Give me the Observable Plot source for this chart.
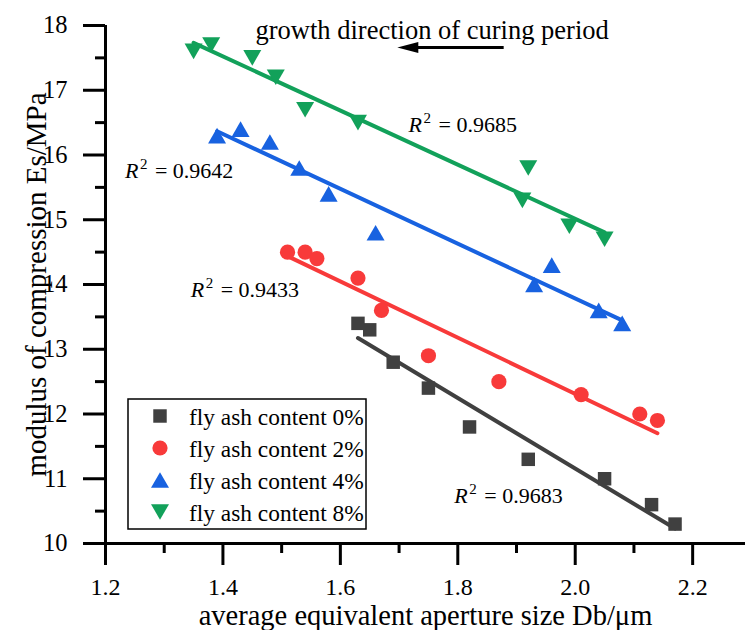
<!DOCTYPE html>
<html>
<head>
<meta charset="utf-8">
<script src="https://cdn.jsdelivr.net/npm/d3@7"></script>
<script src="https://cdn.jsdelivr.net/npm/@observablehq/plot@0.6"></script>
<style>
  html, body { margin: 0; padding: 0; background: #fff; }
  #wrap { position: relative; width: 745px; height: 630px; overflow: hidden; }
  #wrap svg text { font-family: "Liberation Serif", serif; }
</style>
</head>
<body>
<div id="wrap"></div>
<script>
// ---------- data ----------
const xTicksMajor = [1.2, 1.4, 1.6, 1.8, 2.0, 2.2];
const xTicksMinor = [1.3, 1.5, 1.7, 1.9, 2.1];
const yTicksMajor = [10, 11, 12, 13, 14, 15, 16, 17, 18];
const yTicksMinor = [10.5, 11.5, 12.5, 13.5, 14.5, 15.5, 16.5, 17.5];

const seriesNames = ["fly ash content 0%", "fly ash content 2%", "fly ash content 4%", "fly ash content 8%"];

const x0 = [1.63, 1.65, 1.69, 1.75, 1.82, 1.92, 2.05, 2.13, 2.17];
const y0 = [13.4, 13.3, 12.8, 12.4, 11.8, 11.3, 11.0, 10.6, 10.3];

const x2 = [1.51, 1.54, 1.56, 1.63, 1.67, 1.75, 1.87, 2.01, 2.11, 2.14];
const y2 = [14.5, 14.5, 14.4, 14.1, 13.6, 12.9, 12.5, 12.3, 12.0, 11.9];

const x4 = [1.39, 1.43, 1.48, 1.53, 1.58, 1.66, 1.93, 1.96, 2.04, 2.08];
const y4 = [16.3, 16.4, 16.2, 15.8, 15.4, 14.8, 14.0, 14.3, 13.6, 13.4];

const x8 = [1.35, 1.38, 1.45, 1.49, 1.54, 1.63, 1.91, 1.92, 1.99, 2.05];
const y8 = [17.6, 17.7, 17.5, 17.2, 16.7, 16.5, 15.3, 15.8, 14.9, 14.7];

// R² annotations (data units: left x, baseline y)
const r2Values = ["0.9683", "0.9433", "0.9642", "0.9685"];
const r2X = [1.794, 1.345, 1.233, 1.716];
const r2Y = [10.63, 13.80, 15.64, 16.36];

// curing-period note and arrow (data units)
const noteText = "growth direction of curing period";
const noteX = [1.4555];
const noteY = [17.784];
const arrowTail = [1.879];
const arrowTip = [1.697];
const arrowY = [17.66];

const xTitle = "average equivalent aperture size Db/\u03bcm";
const yTitle = "modulus of compression Es/MPa";

// ---------- styles ----------
const colors = ["#404040", "#f83a3a", "#1862e0", "#12a15a"];
const FONT = "Liberation Serif";

// bbox-centred triangle symbols (Origin style)
const TW = 18, TH = 15.6;
const triUp = {draw(ctx) { ctx.moveTo(0, -TH / 2); ctx.lineTo(TW / 2, TH / 2); ctx.lineTo(-TW / 2, TH / 2); ctx.closePath(); }};
const triDown = {draw(ctx) { ctx.moveTo(0, TH / 2); ctx.lineTo(TW / 2, -TH / 2); ctx.lineTo(-TW / 2, -TH / 2); ctx.closePath(); }};
const arrowHead = {draw(ctx) { ctx.moveTo(0, 0); ctx.lineTo(21, -5.5); ctx.lineTo(21, 5.5); ctx.closePath(); }};

const rows = (xs, ys) => xs.map((x, i) => ({x, y: ys[i]}));
const series = [
  {data: rows(x0, y0), symbol: "square", r: 7.6},
  {data: rows(x2, y2), symbol: "circle", r: 7.6},
  {data: rows(x4, y4), symbol: triUp, r: 7},
  {data: rows(x8, y8), symbol: triDown, r: 7}
];

const r2Rows = r2Values.map((v, i) => ({x: r2X[i], y: r2Y[i], v}));
const noteRows = noteX.map((x, i) => ({x, y: noteY[i], t: noteText}));
const arrowRows = arrowY.map((y, i) => ({x1: arrowTip[i] + 0.02, x2: arrowTail[i], tip: arrowTip[i], y}));
const yTickRows = yTicksMajor.map(v => ({v}));
const xTickRows = xTicksMajor.map(v => ({v}));

const marks = [
  Plot.axisY({ticks: yTicksMajor, tickSize: 22, strokeWidth: 3, text: null, label: null}),
  Plot.axisY({ticks: yTicksMinor, tickSize: 10, strokeWidth: 3, text: null, label: null}),
  Plot.axisX({ticks: xTicksMajor, tickSize: 22, strokeWidth: 3, text: null, label: null}),
  Plot.axisX({ticks: xTicksMinor, tickSize: 10, strokeWidth: 3, text: null, label: null}),
  // tick labels
  Plot.text(yTickRows, {y: "v", frameAnchor: "left", text: d => String(d.v), textAnchor: "end", lineAnchor: "middle", dx: -38, fontFamily: FONT, fontSize: 24.5}),
  Plot.text(xTickRows, {x: "v", frameAnchor: "bottom", text: d => d3.format(".1f")(d.v), textAnchor: "middle", lineAnchor: "middle", dy: 43.5, fontFamily: FONT, fontSize: 24}),
  Plot.ruleY([10], {strokeWidth: 3}),
  Plot.ruleX([1.2], {strokeWidth: 3})
];

series.forEach((s, i) => {
  marks.push(Plot.linearRegressionY(s.data, {x: "x", y: "y", stroke: colors[i], strokeWidth: 4, ci: 0}));
});
series.forEach((s, i) => {
  marks.push(Plot.dot(s.data, {x: "x", y: "y", symbol: s.symbol, r: s.r, fill: colors[i], stroke: "none"}));
});

// R² labels: italic R, superscript 2, "= value"
marks.push(
  Plot.text(r2Rows, {x: "x", y: "y", text: () => "R", fontStyle: "italic", fontFamily: FONT, fontSize: 22, textAnchor: "start", lineAnchor: "middle", dy: -7}),
  Plot.text(r2Rows, {x: "x", y: "y", text: () => "2", fontFamily: FONT, fontSize: 15, textAnchor: "start", lineAnchor: "middle", dx: 15, dy: -14}),
  Plot.text(r2Rows, {x: "x", y: "y", text: d => "= " + d.v, fontFamily: FONT, fontSize: 22, textAnchor: "start", lineAnchor: "middle", dx: 30, dy: -7})
);

// note and arrow
marks.push(
  Plot.text(noteRows, {x: "x", y: "y", text: "t", fontFamily: FONT, fontSize: 26.5, textAnchor: "start", lineAnchor: "middle", dy: -8.5}),
  Plot.ruleY(arrowRows, {y: "y", x1: "x1", x2: "x2", strokeWidth: 3, stroke: "#000"}),
  Plot.dot(arrowRows, {x: "tip", y: "y", symbol: arrowHead, r: 5, fill: "#000", stroke: "none"})
);

// axis titles
marks.push(
  Plot.text([xTitle], {text: d => d, frameAnchor: "bottom", textAnchor: "middle", lineAnchor: "middle", dy: 72.5, fontFamily: FONT, fontSize: 28.5}),
  Plot.text([yTitle], {text: d => d, frameAnchor: "left", textAnchor: "middle", lineAnchor: "middle", dx: -69, rotate: -90, fontFamily: FONT, fontSize: 29})
);

const chart = Plot.plot({
  width: 745,
  height: 630,
  marginLeft: 105,
  marginRight: 0,
  marginTop: 25,
  marginBottom: 87,
  style: {fontFamily: FONT, background: "#fff", color: "#000", overflow: "visible"},
  x: {domain: [1.2, 2.29]},
  y: {domain: [10, 18]},
  marks
});

const wrap = document.getElementById("wrap");
wrap.appendChild(chart);

// ---------- legend (inside the plot area) ----------
const legendSymbols = ["square", "circle", "up", "down"];
const leg = d3.create("svg")
  .attr("width", 241).attr("height", 133)
  .style("position", "absolute").style("left", "127px").style("top", "398px");
leg.append("rect").attr("x", 1).attr("y", 1).attr("width", 238).attr("height", 130)
  .attr("fill", "#fff").attr("stroke", "#000").attr("stroke-width", 1.5);
const symFor = k => k === "square" ? d3.symbolSquare : k === "circle" ? d3.symbolCircle : k === "up" ? triUp : triDown;
seriesNames.forEach((name, i) => {
  const cy = 18 + 32 * i;
  const size = Math.PI * 7.6 * 7.6;
  leg.append("path")
    .attr("d", d3.symbol(symFor(legendSymbols[i]), size)())
    .attr("transform", `translate(33,${cy})`)
    .attr("fill", colors[i]);
  leg.append("text").attr("x", 62).attr("y", cy + 8.5)
    .style("font-family", "'Liberation Serif'")
    .style("font-size", "23.4px").attr("fill", "#000").text(name);
});
wrap.appendChild(leg.node());
</script>
</body>
</html>
